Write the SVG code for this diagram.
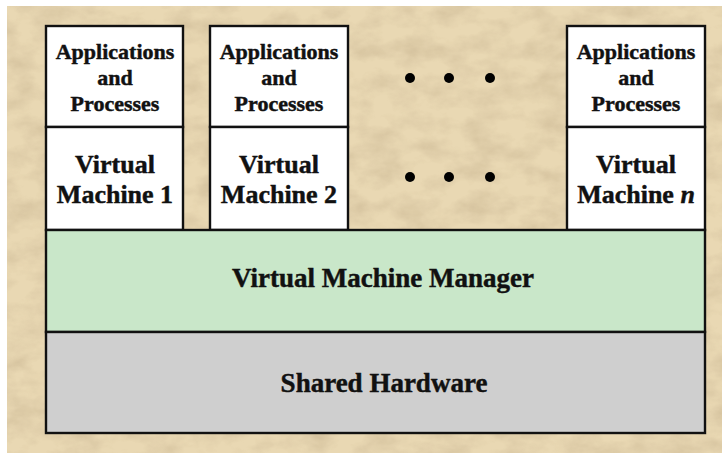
<svg xmlns="http://www.w3.org/2000/svg" width="722" height="454" viewBox="0 0 722 454">
  <style>
    .box { stroke: #111; stroke-width: 2.4; }
    .vm { fill: #ffffff; }
    .vmm { fill: #c9e7c9; }
    .hw { fill: #cfcfcf; }
    text { font-family: "Liberation Serif", "Times New Roman", serif; font-weight: bold; fill: #111; stroke: #111; stroke-width: 0.45; text-anchor: middle; }
    .small { font-size: 22px; }
    .big { font-size: 26px; }
    .layer { font-size: 27px; }
    .dot { fill: #000; }
  </style>
  <defs>
    <filter id="paper" x="0" y="0" width="100%" height="100%">
      <feTurbulence type="fractalNoise" baseFrequency="0.03 0.05" numOctaves="4" seed="7"/>
      <feColorMatrix type="matrix" values="0 0 0 0 0.60  0 0 0 0 0.48  0 0 0 0 0.30  0 0 0 1.8 -0.66"/>
    </filter>
  </defs>

  <!-- page background -->
  <rect x="0" y="0" width="722" height="454" fill="#ffffff"/>
  <rect x="7" y="6" width="715" height="447" fill="#e9d8b3"/>
  <rect x="7" y="6" width="715" height="447" filter="url(#paper)" opacity="0.65"/>

  <!-- virtual machine 1 -->
  <g id="vm1">
    <rect class="box vm" x="46" y="26" width="137" height="101"/>
    <rect class="box vm" x="46" y="127" width="137" height="103"/>
    <text class="small" x="115" y="59">Applications</text>
    <text class="small" x="115" y="85">and</text>
    <text class="small" x="115" y="111">Processes</text>
    <text class="big" x="115" y="173">Virtual</text>
    <text class="big" x="115" y="203">Machine 1</text>
  </g>

  <!-- virtual machine 2 -->
  <g id="vm2">
    <rect class="box vm" x="210" y="26" width="138" height="101"/>
    <rect class="box vm" x="210" y="127" width="138" height="103"/>
    <text class="small" x="279" y="59">Applications</text>
    <text class="small" x="279" y="85">and</text>
    <text class="small" x="279" y="111">Processes</text>
    <text class="big" x="279" y="173">Virtual</text>
    <text class="big" x="279" y="203">Machine 2</text>
  </g>

  <!-- ellipsis between machines -->
  <g id="ellipsis">
    <circle class="dot" cx="410" cy="78" r="5"/>
    <circle class="dot" cx="449" cy="78" r="5"/>
    <circle class="dot" cx="490" cy="78" r="5"/>
    <circle class="dot" cx="410" cy="177" r="5"/>
    <circle class="dot" cx="449" cy="177" r="5"/>
    <circle class="dot" cx="490" cy="177" r="5"/>
  </g>

  <!-- virtual machine n -->
  <g id="vmn">
    <rect class="box vm" x="567" y="26" width="138" height="101"/>
    <rect class="box vm" x="567" y="127" width="138" height="103"/>
    <text class="small" x="636" y="59">Applications</text>
    <text class="small" x="636" y="85">and</text>
    <text class="small" x="636" y="111">Processes</text>
    <text class="big" x="636" y="173">Virtual</text>
    <text class="big" x="636" y="203">Machine <tspan font-style="italic">n</tspan></text>
  </g>

  <!-- hypervisor layer -->
  <g id="vmm">
    <rect class="box vmm" x="46" y="230" width="659" height="102"/>
    <text class="layer" x="383" y="287">Virtual Machine Manager</text>
  </g>

  <!-- hardware layer -->
  <g id="hardware">
    <rect class="box hw" x="46" y="332" width="659" height="101"/>
    <text class="layer" x="384" y="392">Shared Hardware</text>
  </g>

  <g id="connectors"/>
</svg>
